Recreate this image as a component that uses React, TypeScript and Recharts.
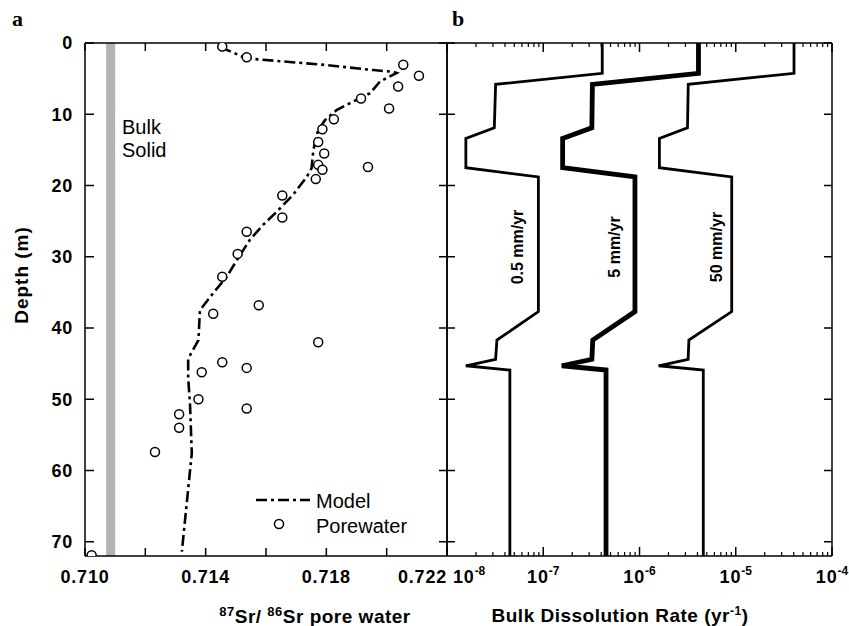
import React from 'react';
import { ScatterChart, Scatter, XAxis, YAxis, ReferenceArea } from 'recharts';

const FONT = '"Liberation Sans", Arial, Helvetica, sans-serif';

// ---------- Panel a : 87Sr/86Sr pore water ----------
const poreRatio = [
  0.71455, 0.71536, 0.72055, 0.72107, 0.72038, 0.71915, 0.72008, 0.71825,
  0.71787, 0.71773, 0.71793, 0.71773, 0.71787, 0.71938, 0.71765, 0.71654,
  0.71654, 0.71536, 0.71506, 0.71455, 0.71576, 0.71425, 0.71773, 0.71455,
  0.71536, 0.71387, 0.71376, 0.71536, 0.71312, 0.71312, 0.71232, 0.71022,
];
const poreDepth = [
  0.5, 2.0, 3.05, 4.6, 6.1, 7.8, 9.2, 10.7,
  12.1, 13.9, 15.5, 17.1, 17.8, 17.4, 19.1, 21.4,
  24.5, 26.5, 29.6, 32.8, 36.8, 38.0, 42.0, 44.8,
  45.6, 46.2, 50.0, 51.3, 52.1, 54.0, 57.4, 71.9,
];
const modelRatio = [
  0.7145, 0.71535, 0.71801, 0.71956, 0.72022, 0.72033, 0.71978, 0.71945,
  0.71911, 0.71834, 0.71796, 0.71773, 0.71757, 0.71751, 0.71735, 0.71702,
  0.7169, 0.71635, 0.71591, 0.71547, 0.71503, 0.7147, 0.71425, 0.71381,
  0.71376, 0.71342, 0.71342, 0.71348, 0.71354, 0.71321,
];
const modelDepth = [
  0.6, 2.15, 3.1, 3.8, 4.05, 4.2, 5.4, 7.05,
  7.75, 9.4, 10.8, 12.2, 15.0, 17.6, 18.8, 20.6,
  21.3, 23.7, 25.5, 27.6, 30.5, 32.8, 35.1, 37.5,
  41.7, 44.3, 47.0, 50.6, 57.6, 71.4,
];
const bulkSolidFrom = 0.7107;
const bulkSolidTo = 0.7110;
const ratioDomain = [0.71, 0.722];
const ratioTicks = [0.71, 0.712, 0.714, 0.716, 0.718, 0.72, 0.722];
const ratioTickLabels = ['0.710', '', '0.714', '', '0.718', '', '0.722'];
const depthDomain = [0, 72];
const depthTicks = [0, 10, 20, 30, 40, 50, 60, 70];

// ---------- Panel b : bulk dissolution rate ----------
const rateDepth = [0, 4.25, 5.8, 11.9, 13.4, 17.5, 18.8, 37.7, 41.7, 44.4, 45.3, 45.9, 72];
const rate05 = [4.1e-7, 4.1e-7, 3.2e-8, 3.1e-8, 1.57e-8, 1.57e-8, 8.9e-8, 8.9e-8, 3.3e-8, 3.2e-8, 1.57e-8, 4.5e-8, 4.5e-8];
const rate5 = [4.1e-6, 4.1e-6, 3.24e-7, 3.2e-7, 1.59e-7, 1.59e-7, 8.97e-7, 8.97e-7, 3.27e-7, 3.2e-7, 1.56e-7, 4.49e-7, 4.49e-7];
const rate50 = [4.03e-5, 4.03e-5, 3.21e-6, 3.15e-6, 1.61e-6, 1.61e-6, 9.08e-6, 9.08e-6, 3.26e-6, 3.2e-6, 1.58e-6, 4.6e-6, 4.6e-6];
const rateDomain = [1e-8, 1e-4];
const rateDecades = [1e-8, 1e-7, 1e-6, 1e-5, 1e-4];
const rateExponents = ['-8', '-7', '-6', '-5', '-4'];
const rateMinorSteps = [2, 3, 4, 5, 6, 7, 8, 9];
const rateLabels = ['0.5 mm/yr', '5 mm/yr', '50 mm/yr'];

const pairs = (xs: number[], ys: number[]) => xs.map((x, i) => ({ x, y: ys[i] }));
const poreData = pairs(poreRatio, poreDepth);
const modelData = pairs(modelRatio, modelDepth);
const line05Data = pairs(rate05, rateDepth);
const line5Data = pairs(rate5, rateDepth);
const line50Data = pairs(rate50, rateDepth);

const rateTicks: number[] = [];
rateDecades.forEach((d, i) => {
  rateTicks.push(d);
  if (i < rateDecades.length - 1) rateMinorSteps.forEach((m) => rateTicks.push(m * d));
});

const axisStyle = { stroke: '#000', strokeWidth: 1.5 };
const tickFont = { fontFamily: FONT, fontWeight: 700, fontSize: 18, fill: '#000', letterSpacing: 0.8 };

const nearestIndex = (arr: number[], v: number) => {
  let best = 0;
  arr.forEach((a, i) => {
    if (Math.abs(a - v) < Math.abs(arr[best] - v)) best = i;
  });
  return best;
};

const DepthLabelTick = (props: any) => {
  const { x, y, payload } = props;
  return (
    <g>
      <line x1={x} x2={x + 9} y1={y} y2={y} stroke="#000" strokeWidth={1.5} />
      <text x={x - 12} y={y} dy="0.36em" textAnchor="end" {...tickFont}>
        {payload.value}
      </text>
    </g>
  );
};

const DepthInTick = (props: any) => {
  const { x, y, dir } = props;
  return <line x1={x} x2={x + dir * 8} y1={y} y2={y} stroke="#000" strokeWidth={1.5} />;
};

const RatioBottomTick = (props: any) => {
  const { x, y, payload } = props;
  const i = nearestIndex(ratioTicks, payload.value);
  const label = ratioTickLabels[i];
  const anchor = i === ratioTicks.length - 1 ? 'end' : 'middle';
  return (
    <g>
      <line x1={x} x2={x} y1={y} y2={y - 8} stroke="#000" strokeWidth={1.5} />
      {label ? (
        <text x={x} y={y + 27} textAnchor={anchor} {...tickFont}>
          {label}
        </text>
      ) : null}
    </g>
  );
};

const RatioTopTick = (props: any) => {
  const { x, y } = props;
  return <line x1={x} x2={x} y1={y} y2={y + 8} stroke="#000" strokeWidth={1.5} />;
};

const isDecade = (v: number) => {
  const l = Math.log10(v);
  return Math.abs(l - Math.round(l)) < 1e-6;
};

const RateBottomTick = (props: any) => {
  const { x, y, payload } = props;
  const v = payload.value;
  if (!isDecade(v)) {
    return <line x1={x} x2={x} y1={y} y2={y - 4} stroke="#000" strokeWidth={1.2} />;
  }
  const i = nearestIndex(rateDecades.map((d) => Math.log10(d)), Math.log10(v));
  const first = i === 0;
  return (
    <g>
      <line x1={x} x2={x} y1={y} y2={y - 9} stroke="#000" strokeWidth={1.5} />
      <text x={first ? x + 6 : x} y={y + 27} textAnchor={first ? 'start' : 'middle'} {...tickFont}>
        <tspan>10</tspan>
        <tspan dy={-8} fontSize={12} letterSpacing={0}>
          {rateExponents[i]}
        </tspan>
      </text>
    </g>
  );
};

const RateTopTick = (props: any) => {
  const { x, y, payload } = props;
  const len = isDecade(payload.value) ? 9 : 4;
  return <line x1={x} x2={x} y1={y} y2={y + len} stroke="#000" strokeWidth={isDecade(payload.value) ? 1.5 : 1.2} />;
};

const Circle = (props: any) => {
  const { cx, cy } = props;
  if (cx == null || cy == null) return <g />;
  return <circle cx={cx} cy={cy} r={4.5} fill="#fff" stroke="#000" strokeWidth={1.5} />;
};

const NoShape = () => <g />;

export default function App() {
  return (
    <div style={{ position: 'absolute', left: 0, top: 0, width: 849, height: 626, background: '#fff' }}>
      <div style={{ position: 'absolute', left: 0, top: 0 }}>
        <ScatterChart width={460} height={626} margin={{ top: 42, right: 12, bottom: 10, left: 25 }}>
          <XAxis
            xAxisId="bottom"
            type="number"
            dataKey="x"
            orientation="bottom"
            domain={ratioDomain}
            ticks={ratioTicks}
            interval={0}
            allowDataOverflow
            height={60}
            tickSize={0}
            tickMargin={0}
            tickLine={false}
            axisLine={axisStyle}
            tick={<RatioBottomTick />}
          />
          <XAxis
            xAxisId="top"
            type="number"
            dataKey="x"
            orientation="top"
            domain={ratioDomain}
            ticks={ratioTicks}
            interval={0}
            allowDataOverflow
            height={1}
            tickSize={0}
            tickMargin={0}
            tickLine={false}
            axisLine={axisStyle}
            tick={<RatioTopTick />}
          />
          <YAxis
            yAxisId="left"
            type="number"
            dataKey="y"
            orientation="left"
            reversed
            domain={depthDomain}
            ticks={depthTicks}
            interval={0}
            allowDataOverflow
            width={60}
            tickSize={0}
            tickMargin={0}
            tickLine={false}
            axisLine={axisStyle}
            tick={<DepthLabelTick />}
          />
          <YAxis
            yAxisId="right"
            type="number"
            dataKey="y"
            orientation="right"
            reversed
            domain={depthDomain}
            ticks={depthTicks}
            interval={0}
            allowDataOverflow
            width={1}
            tickSize={0}
            tickMargin={0}
            tickLine={false}
            axisLine={axisStyle}
            tick={<DepthInTick dir={-1} />}
          />
          <ReferenceArea
            xAxisId="bottom"
            yAxisId="left"
            x1={bulkSolidFrom}
            x2={bulkSolidTo}
            y1={depthDomain[0]}
            y2={depthDomain[1]}
            fill="#b3b3b3"
            fillOpacity={1}
            stroke="none"
            ifOverflow="visible"
          />
          <Scatter
            xAxisId="bottom"
            yAxisId="left"
            data={modelData}
            line={{ stroke: '#000', strokeWidth: 2.6, strokeDasharray: '11 4 3 4' }}
            shape={NoShape}
            isAnimationActive={false}
          />
          <Scatter
            xAxisId="bottom"
            yAxisId="left"
            data={poreData}
            shape={Circle}
            isAnimationActive={false}
          />
        </ScatterChart>
      </div>
      <div style={{ position: 'absolute', left: 437, top: 0 }}>
        <ScatterChart width={412} height={626} margin={{ top: 42, right: 16, bottom: 10, left: 9 }}>
          <XAxis
            xAxisId="bottom"
            type="number"
            dataKey="x"
            scale="log"
            orientation="bottom"
            domain={rateDomain}
            ticks={rateTicks}
            interval={0}
            allowDataOverflow
            height={60}
            tickSize={0}
            tickMargin={0}
            tickLine={false}
            axisLine={axisStyle}
            tick={<RateBottomTick />}
          />
          <XAxis
            xAxisId="top"
            type="number"
            dataKey="x"
            scale="log"
            orientation="top"
            domain={rateDomain}
            ticks={rateTicks}
            interval={0}
            allowDataOverflow
            height={1}
            tickSize={0}
            tickMargin={0}
            tickLine={false}
            axisLine={axisStyle}
            tick={<RateTopTick />}
          />
          <YAxis
            yAxisId="left"
            type="number"
            dataKey="y"
            orientation="left"
            reversed
            domain={depthDomain}
            ticks={depthTicks}
            interval={0}
            allowDataOverflow
            width={1}
            tickSize={0}
            tickMargin={0}
            tickLine={false}
            axisLine={axisStyle}
            tick={<DepthInTick dir={1} />}
          />
          <YAxis
            yAxisId="right"
            type="number"
            dataKey="y"
            orientation="right"
            reversed
            domain={depthDomain}
            ticks={depthTicks}
            interval={0}
            allowDataOverflow
            width={1}
            tickSize={0}
            tickMargin={0}
            tickLine={false}
            axisLine={axisStyle}
            tick={<DepthInTick dir={-1} />}
          />
          <Scatter
            xAxisId="bottom"
            yAxisId="left"
            data={line05Data}
            line={{ stroke: '#000', strokeWidth: 2.8, strokeLinejoin: 'miter' }}
            shape={NoShape}
            isAnimationActive={false}
          />
          <Scatter
            xAxisId="bottom"
            yAxisId="left"
            data={line5Data}
            line={{ stroke: '#000', strokeWidth: 4.8, strokeLinejoin: 'miter' }}
            shape={NoShape}
            isAnimationActive={false}
          />
          <Scatter
            xAxisId="bottom"
            yAxisId="left"
            data={line50Data}
            line={{ stroke: '#000', strokeWidth: 2.8, strokeLinejoin: 'miter' }}
            shape={NoShape}
            isAnimationActive={false}
          />
        </ScatterChart>
      </div>
      <svg
        width={849}
        height={626}
        style={{ position: 'absolute', left: 0, top: 0, pointerEvents: 'none' }}
      >
        <text x={12} y={26} fontFamily='"Liberation Serif", "Times New Roman", serif' fontWeight={700} fontSize={22}>
          a
        </text>
        <text x={452} y={26} fontFamily='"Liberation Serif", "Times New Roman", serif' fontWeight={700} fontSize={22}>
          b
        </text>
        <text
          x={28}
          y={275}
          transform="rotate(-90 28 275)"
          textAnchor="middle"
          fontFamily={FONT}
          fontWeight={700}
          fontSize={19}
          letterSpacing={1}
        >
          Depth (m)
        </text>
        <text x={315} y={623} textAnchor="middle" fontFamily={FONT} fontWeight={700} fontSize={19} letterSpacing={0.5}>
          <tspan fontSize={13} dy={-7}>87</tspan>
          <tspan dy={7}>Sr/ </tspan>
          <tspan fontSize={13} dy={-7}>86</tspan>
          <tspan dy={7}>Sr pore water</tspan>
        </text>
        <text x={620} y={622} textAnchor="middle" fontFamily={FONT} fontWeight={700} fontSize={19} letterSpacing={0.5}>
          <tspan>Bulk Dissolution Rate (yr</tspan>
          <tspan fontSize={12} dy={-7}>-1</tspan>
          <tspan dy={7}>)</tspan>
        </text>
        <text x={122} y={134} fontFamily={FONT} fontSize={20}>Bulk</text>
        <text x={122} y={157} fontFamily={FONT} fontSize={20}>Solid</text>
        <line x1={256} x2={310} y1={500} y2={500} stroke="#000" strokeWidth={2.6} strokeDasharray="11 4 3 4" />
        <text x={316} y={508} fontFamily={FONT} fontSize={20}>Model</text>
        <circle cx={279} cy={524} r={4.5} fill="#fff" stroke="#000" strokeWidth={1.5} />
        <text x={316} y={533} fontFamily={FONT} fontSize={20}>Porewater</text>
        <text x={523} y={247} transform="rotate(-90 523 247)" textAnchor="middle" fontFamily={FONT} fontWeight={700} fontSize={16}>
          {rateLabels[0]}
        </text>
        <text x={620} y={247} transform="rotate(-90 620 247)" textAnchor="middle" fontFamily={FONT} fontWeight={700} fontSize={16}>
          {rateLabels[1]}
        </text>
        <text x={722} y={247} transform="rotate(-90 722 247)" textAnchor="middle" fontFamily={FONT} fontWeight={700} fontSize={16}>
          {rateLabels[2]}
        </text>
      </svg>
    </div>
  );
}
